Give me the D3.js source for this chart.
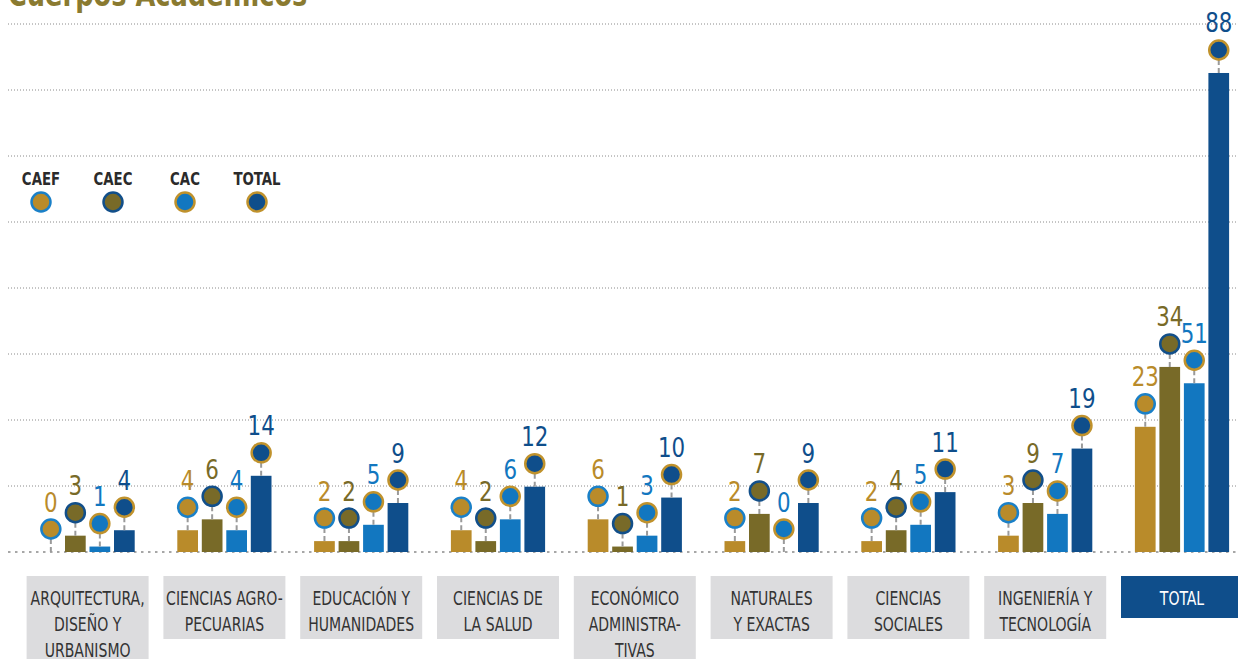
<!DOCTYPE html>
<html lang="es">
<head>
<meta charset="utf-8">
<script src="https://cdn.jsdelivr.net/npm/d3@7"></script>
<style>
  html, body { margin: 0; padding: 0; background: #fff; overflow: hidden; }
  svg { display: block; }
</style>
</head>
<body>
<div id="grafica"></div>
<script>
// ===============================
// Datos
// ===============================
const categorias = [
    ["ARQUITECTURA,", "DISEÑO Y", "URBANISMO"],
    ["CIENCIAS AGRO-", "PECUARIAS"],
    ["EDUCACIÓN Y", "HUMANIDADES"],
    ["CIENCIAS DE", "LA SALUD"],
    ["ECONÓMICO", "ADMINISTRA-", "TIVAS"],
    ["NATURALES", "Y EXACTAS"],
    ["CIENCIAS", "SOCIALES"],
    ["INGENIERÍA Y", "TECNOLOGÍA"],
    ["TOTAL"]
];
const series = ["CAEF", "CAEC", "CAC", "TOTAL"];
const valoresCAEF = [0, 4, 2, 4, 6, 2, 2, 3, 23];
const valoresCAEC = [3, 6, 2, 2, 1, 7, 4, 9, 34];
const valoresCAC = [1, 4, 5, 6, 3, 0, 5, 7, 31];
const valoresTOTAL = [4, 14, 9, 12, 10, 9, 11, 19, 88];
// la etiqueta del total CAC dice 51 en el original (la barra mide 31)
const etiquetasCAC = ["1", "4", "5", "6", "3", "0", "5", "7", "51"];

// ===============================
// Estilos
// ===============================
const ancho = 1238, alto = 659;
const colores = { CAEF: "#b98b2a", CAEC: "#786a28", CAC: "#1277c0", TOTAL: "#0f4e8b" };
const bordes = { CAEF: "#1a80c8", CAEC: "#124f8a", CAC: "#c0922c", TOTAL: "#c0922c" };
const fuente = "'Liberation Sans Narrow', 'DejaVu Sans Condensed', 'Roboto', sans-serif";

const svg = d3.select("#grafica").append("svg").attr("width", ancho).attr("height", alto);

// Escalas
const yMax = 97;
const y = d3.scaleLinear().domain([0, yMax]).range([552, 24]);
const x0 = d3.scaleBand().domain(d3.range(categorias.length)).range([19.2, 1250.4]);
const x1 = d3.scaleBand().domain(series).range([-47.1, 47.1]).paddingInner(0.155);

// Texto comprimido horizontalmente
function condensar(sel, px, py, k) {
    sel.attr("x", 0).attr("y", 0).attr("transform", `translate(${px},${py}) scale(${k},1)`);
}

// ===============================
// Título
// ===============================
svg.append("text")
    .attr("font-family", fuente)
    .attr("font-weight", "bold")
    .attr("font-size", 34)
    .attr("fill", "#8a7a30")
    .text("Cuerpos Académicos")
    .call(condensar, 8, 5.5, 0.84);

// ===============================
// Rejilla
// ===============================
const rejilla = d3.range(1, 9).map(i => i * yMax / 8);
svg.append("g").selectAll("line").data(rejilla).join("line")
    .attr("x1", 8).attr("x2", ancho)
    .attr("y1", d => y(d)).attr("y2", d => y(d))
    .attr("stroke", "#8a8a8a").attr("stroke-width", 1)
    .attr("stroke-dasharray", "1,2");

svg.append("line")
    .attr("x1", 8).attr("x2", ancho)
    .attr("y1", y(0)).attr("y2", y(0))
    .attr("stroke", "#8a8a8a").attr("stroke-width", 1.5)
    .attr("stroke-dasharray", "2.5,4.5");

// ===============================
// Barras, marcadores y etiquetas
// ===============================
const filas = [];
categorias.forEach((c, i) => {
    filas.push({ i, s: "CAEF", v: valoresCAEF[i], t: String(valoresCAEF[i]) });
    filas.push({ i, s: "CAEC", v: valoresCAEC[i], t: String(valoresCAEC[i]) });
    filas.push({ i, s: "CAC", v: valoresCAC[i], t: etiquetasCAC[i] });
    filas.push({ i, s: "TOTAL", v: valoresTOTAL[i], t: String(valoresTOTAL[i]) });
});

const cx = d => x0(d.i) + x0.bandwidth() / 2 + x1(d.s) + x1.bandwidth() / 2;
const radio = 9.5;
const alzada = 23;

const grupo = svg.append("g");
grupo.selectAll("rect").data(filas).join("rect")
    .attr("x", d => cx(d) - x1.bandwidth() / 2)
    .attr("width", x1.bandwidth())
    .attr("y", d => y(d.v))
    .attr("height", d => y(0) - y(d.v))
    .attr("fill", d => colores[d.s]);

grupo.selectAll("line.guia").data(filas).join("line")
    .attr("class", "guia")
    .attr("x1", cx).attr("x2", cx)
    .attr("y1", d => y(d.v))
    .attr("y2", d => y(d.v) - alzada + radio)
    .attr("stroke", "#9a9a9a").attr("stroke-width", 2)
    .attr("stroke-dasharray", "5,3");

grupo.selectAll("circle").data(filas).join("circle")
    .attr("cx", cx)
    .attr("cy", d => y(d.v) - alzada)
    .attr("r", radio)
    .attr("fill", d => colores[d.s])
    .attr("stroke", d => bordes[d.s])
    .attr("stroke-width", 2.5);

grupo.selectAll("text").data(filas).join("text")
    .attr("font-family", fuente)
    .attr("font-size", 27)
    .attr("text-anchor", "middle")
    .attr("fill", d => colores[d.s])
    .text(d => d.t)
    .each(function(d) {
        d3.select(this).call(condensar, cx(d), y(d.v) - alzada - 17.5, 0.88);
    });

// ===============================
// Cajas de categorías
// ===============================
const cajas = svg.append("g").selectAll("g").data(categorias).join("g")
    .attr("transform", (d, i) => `translate(${x0(i) + x0.bandwidth() / 2},576)`);

cajas.append("rect")
    .attr("x", -61).attr("width", 122)
    .attr("height", d => 42 + 21 * (d.length - 1))
    .attr("fill", (d, i) => i === categorias.length - 1 ? colores.TOTAL : "#dcdcde");

cajas.each(function(d, i) {
    d3.select(this).selectAll("text").data(d).join("text")
        .attr("font-family", fuente)
        .attr("font-size", 20)
        .attr("text-anchor", "middle")
        .attr("fill", i === categorias.length - 1 ? "#ffffff" : "#333333")
        .text(t => t)
        .each(function(t, j) {
            d3.select(this).call(condensar, 0, 29 + j * 26, 0.78);
        });
});

// ===============================
// Leyenda
// ===============================
const leyenda = svg.append("g").selectAll("g").data(series).join("g")
    .attr("transform", (d, i) => `translate(${41 + i * 72},0)`);

leyenda.append("text")
    .attr("font-family", fuente)
    .attr("font-weight", "bold")
    .attr("font-size", 18.5)
    .attr("text-anchor", "middle")
    .attr("fill", "#2b2b2b")
    .text(d => d)
    .call(condensar, 0, 185, 0.8);

leyenda.append("circle")
    .attr("cy", 202).attr("r", radio)
    .attr("fill", d => colores[d])
    .attr("stroke", d => bordes[d])
    .attr("stroke-width", 2.5);
</script>
</body>
</html>
